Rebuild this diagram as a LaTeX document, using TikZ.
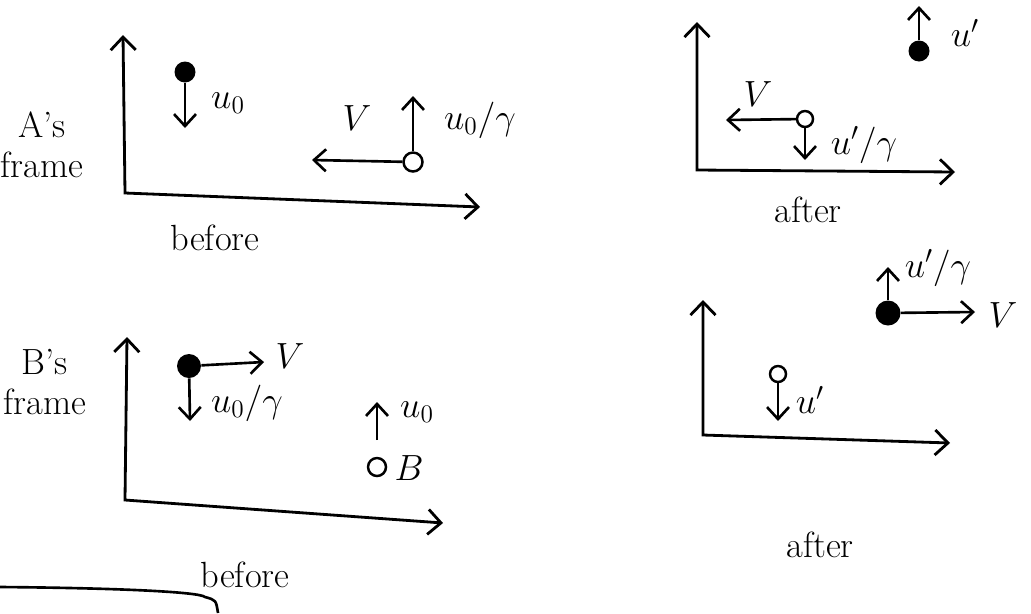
\documentclass[tikz,border=0pt]{standalone}
\usepackage{tikz}
\usetikzlibrary{arrows.meta,positioning}

\begin{document}
\begin{tikzpicture}[x=0.02cm,y=-0.02cm,
    axis/.style={line width=1.6pt,{Straight Barb[length=2.6mm,width=5mm]}-{Straight Barb[length=2.6mm,width=5mm]}},
    vec/.style={line width=1.5pt,-{Straight Barb[length=2.4mm,width=4.4mm]}},
    fullball/.style={circle,fill,inner sep=0pt,minimum size=0.42cm},
    openball/.style={circle,draw,line width=1.4pt,fill=white,inner sep=0pt,minimum size=0.38cm},
    word/.style={font=\huge,inner sep=1pt},
    lbl/.style={font=\huge,inner sep=1pt}
  ]
    \useasboundingbox (0,0) rectangle (1031,613);
    % A's frame, before
    \coordinate (ya) at (123,35);
    \coordinate (oa) at (125,193);
    \coordinate (xa) at (480,207);
    \draw[axis] (ya) -- (oa) -- (xa);
    \node[word] (aname) at (42,125) {A's};
    \node[word,below=0.2cm of aname] (aframe) {frame};
    \node[word] (abefore) at (215,238) {before};
    \node[fullball] (a1) at (185,72) {};
    \coordinate (a1v) at (185,128);
    \draw[vec] (a1) -- (a1v);
    \node[lbl] (a1u) at (228,103) {$u_0$};
    \node[openball] (b1) at (413,162) {};
    \coordinate (b1v) at (413,96);
    \coordinate (b1w) at (312,160);
    \draw[vec] (b1) -- (b1v);
    \draw[vec] (b1) -- (b1w);
    \node[lbl] (b1u) at (480,120) {$u_0/\gamma$};
    \node[lbl] (b1V) at (357,118) {$V$};
    % A's frame, after
    \coordinate (yc) at (697,22);
    \coordinate (oc) at (697,170);
    \coordinate (xc) at (955,172);
    \draw[axis] (yc) -- (oc) -- (xc);
    \node[word] (cafter) at (808,210) {after};
    \node[fullball] (a2) at (919,51) {};
    \coordinate (a2v) at (919,6);
    \draw[vec] (a2) -- (a2v);
    \node[lbl] (a2u) at (965,33) {$u'$};
    \node[openball,minimum size=0.32cm] (b2) at (805,119) {};
    \coordinate (b2v) at (805,160);
    \coordinate (b2w) at (726,120);
    \draw[vec] (b2) -- (b2v);
    \draw[vec] (b2) -- (b2w);
    \node[lbl] (b2u) at (864,145) {$u'/\gamma$};
    \node[lbl] (b2V) at (758,94) {$V$};
    % B's frame, before
    \coordinate (yb) at (127,337);
    \coordinate (ob) at (125,500);
    \coordinate (xb) at (443,523);
    \draw[axis] (yb) -- (ob) -- (xb);
    \node[word] (bname) at (45,362) {B's};
    \node[word,below=0.2cm of bname] (bframe) {frame};
    \node[word] (bbefore) at (245,575) {before};
    \node[fullball,minimum size=0.48cm] (a3) at (189,366) {};
    \coordinate (a3v) at (190,421);
    \coordinate (a3w) at (264,362);
    \draw[vec] (a3) -- (a3v);
    \draw[vec] (a3) -- (a3w);
    \node[lbl] (a3u) at (247,403) {$u_0/\gamma$};
    \node[lbl] (a3V) at (290,356) {$V$};
    \node[openball,minimum size=0.36cm] (b3) at (377,467) {};
    \coordinate (b3t) at (377,440);
    \coordinate (b3v) at (377,402);
    \draw[vec] (b3t) -- (b3v);
    \node[lbl] (b3u) at (417,412) {$u_0$};
    \node[lbl] (b3B) at (409,468) {$B$};
    % B's frame, after
    \coordinate (yd) at (703,300);
    \coordinate (od) at (703,435);
    \coordinate (xd) at (950,443);
    \draw[axis] (yd) -- (od) -- (xd);
    \node[word] (dafter) at (820,545) {after};
    \node[fullball,minimum size=0.5cm] (a4) at (888,313) {};
    \coordinate (a4v) at (888,267);
    \coordinate (a4w) at (975,312);
    \draw[vec] (a4) -- (a4v);
    \draw[vec] (a4) -- (a4w);
    \node[lbl] (a4u) at (938,268) {$u'/\gamma$};
    \node[lbl] (a4V) at (1003,315) {$V$};
    \node[openball,minimum size=0.32cm] (b4) at (778,374) {};
    \coordinate (b4v) at (778,421);
    \draw[vec] (b4) -- (b4v);
    \node[lbl] (b4u) at (810,400) {$u'$};
    % cut-off box at the bottom
    \coordinate (k1) at (0,587);
    \coordinate (k2) at (205,597);
    \coordinate (k3) at (218,613);
    \draw[line width=1.5pt] (k1) .. controls (120,588) and (200,592) .. (k2) .. controls (216,600) .. (k3);
  \end{tikzpicture}
\end{document}
